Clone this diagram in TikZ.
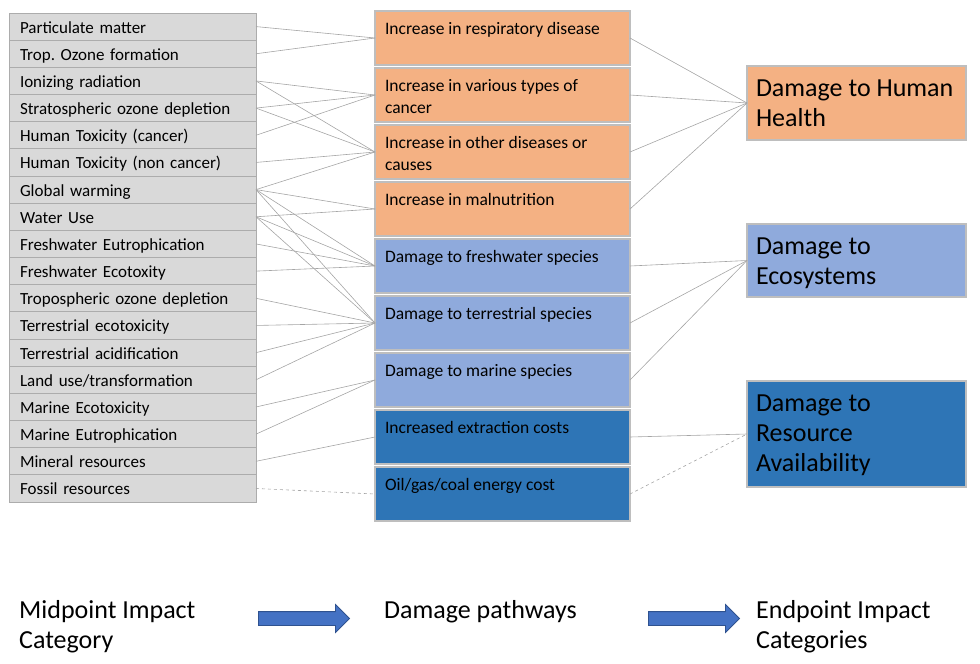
\documentclass[tikz,border=0pt]{standalone}
\usepackage{fontspec}
\setmainfont{Carlito}
\usepackage{tikz}
\usetikzlibrary{positioning, shapes.arrows}
\definecolor{cellgray}{RGB}{217,217,217}
\definecolor{cellborder}{RGB}{172,172,172}
\definecolor{boxborder}{RGB}{190,190,190}
\definecolor{orangefill}{RGB}{244,177,131}
\definecolor{lightbluefill}{RGB}{143,170,220}
\definecolor{darkbluefill}{RGB}{46,117,182}
\definecolor{linegray}{RGB}{165,165,165}
\definecolor{arrowblue}{RGB}{68,114,196}
\definecolor{arrowedge}{RGB}{47,82,143}
\newcommand{\toptext}[3]{\parbox[t][#2][t]{#1}{\raggedright\strut #3}}
\frenchspacing

\begin{document}
\begin{tikzpicture}[
  x=1pt, y=-1pt,
  mid/.style={rectangle, draw=cellborder, fill=cellgray, line width=0.9pt, outer sep=0pt,
              text width=225pt, inner xsep=11pt, inner ysep=0pt, align=left,
              minimum height=27.17pt, text height=14.5pt, text depth=1.5pt,
              font=\fontsize{17}{20}\selectfont},
  pbox/.style={rectangle, draw=boxborder, line width=1.2pt, outer sep=0pt, inner xsep=10pt,
               inner ysep=8pt, font=\fontsize{17.5}{22}\selectfont},
  ebox/.style={rectangle, draw=boxborder, line width=1.2pt, outer sep=0pt, inner xsep=9pt,
               inner ysep=9pt, font=\fontsize{26}{30}\selectfont},
  link/.style={draw=linegray, line width=0.6pt},
  caption/.style={anchor=north west, inner sep=0pt, align=left,
                  font=\fontsize{26}{30}\selectfont},
  bigarrow/.style={single arrow, draw=arrowedge, fill=arrowblue, line width=0.8pt,
                   minimum height=91pt, text height=6.5pt, text depth=6.5pt,
                   single arrow head extend=7pt, inner sep=0pt}
]
\useasboundingbox (0,0) rectangle (980,664);

% --- Midpoint impact categories ---
\node[mid, anchor=north west] (pm) at (9,13) {Particulate matter};
\node[mid, below=0pt of pm] (trop) {Trop. Ozone formation};
\node[mid, below=0pt of trop] (ion) {Ionizing radiation};
\node[mid, below=0pt of ion] (strat) {Stratospheric ozone depletion};
\node[mid, below=0pt of strat] (htc) {Human Toxicity (cancer)};
\node[mid, below=0pt of htc] (htnc) {Human Toxicity (non cancer)};
\node[mid, below=0pt of htnc] (gw) {Global warming};
\node[mid, below=0pt of gw] (water) {Water Use};
\node[mid, below=0pt of water] (fweut) {Freshwater Eutrophication};
\node[mid, below=0pt of fweut] (fwtox) {Freshwater Ecotoxity};
\node[mid, below=0pt of fwtox] (tropdep) {Tropospheric ozone depletion};
\node[mid, below=0pt of tropdep] (terrtox) {Terrestrial ecotoxicity};
\node[mid, below=0pt of terrtox] (terracid) {Terrestrial acidification};
\node[mid, below=0pt of terracid] (landuse) {Land use/transformation};
\node[mid, below=0pt of landuse] (martox) {Marine Ecotoxicity};
\node[mid, below=0pt of martox] (mareut) {Marine Eutrophication};
\node[mid, below=0pt of mareut] (mineral) {Mineral resources};
\node[mid, below=0pt of mineral] (fossil) {Fossil resources};

% --- Damage pathways ---
\node[pbox, fill=orangefill, anchor=north west] (resp) at (375,11)
  {\toptext{235pt}{38pt}{Increase in respiratory disease}};
\node[pbox, fill=orangefill, below=3pt of resp] (cancer)
  {\toptext{235pt}{38pt}{Increase in various types of\\cancer}};
\node[pbox, fill=orangefill, below=3pt of cancer] (other)
  {\toptext{235pt}{38pt}{Increase in other diseases or\\causes}};
\node[pbox, fill=orangefill, below=3pt of other] (malnut)
  {\toptext{235pt}{38pt}{Increase in malnutrition}};
\node[pbox, fill=lightbluefill, below=3pt of malnut] (fwsp)
  {\toptext{235pt}{38pt}{Damage to freshwater species}};
\node[pbox, fill=lightbluefill, below=3pt of fwsp] (tersp)
  {\toptext{235pt}{38pt}{Damage to terrestrial species}};
\node[pbox, fill=lightbluefill, below=3pt of tersp] (marsp)
  {\toptext{235pt}{38pt}{Damage to marine species}};
\node[pbox, fill=darkbluefill, below=3pt of marsp] (extract)
  {\toptext{235pt}{38pt}{Increased extraction costs}};
\node[pbox, fill=darkbluefill, below=3pt of extract] (energy)
  {\toptext{235pt}{38pt}{Oil/gas/coal energy cost}};

% --- Endpoint categories ---
\node[ebox, fill=orangefill, anchor=north west] (health) at (747,66)
  {\toptext{201pt}{56pt}{Damage to Human\\Health}};
\node[ebox, fill=lightbluefill, below=84pt of health] (ecosys)
  {\toptext{201pt}{55pt}{Damage to\\Ecosystems}};
\node[ebox, fill=darkbluefill, below=84pt of ecosys] (resource)
  {\toptext{201pt}{88pt}{Damage to\\Resource\\Availability}};

% --- Links midpoint -> pathways ---
\draw[link] (pm.east) -- (resp.west);
\draw[link] (trop.east) -- (resp.west);
\draw[link] (ion.east) -- (cancer.west);
\draw[link] (ion.east) -- (other.west);
\draw[link] (strat.east) -- (cancer.west);
\draw[link] (strat.east) -- (other.west);
\draw[link] (htc.east) -- (cancer.west);
\draw[link] (htnc.east) -- (other.west);
\draw[link] (gw.east) -- (other.west);
\draw[link] (gw.east) -- (malnut.west);
\draw[link] (gw.east) -- (fwsp.west);
\draw[link] (gw.east) -- (tersp.west);
\draw[link] (water.east) -- (malnut.west);
\draw[link] (water.east) -- (fwsp.west);
\draw[link] (water.east) -- (tersp.west);
\draw[link] (fweut.east) -- (fwsp.west);
\draw[link] (fwtox.east) -- (fwsp.west);
\draw[link] (tropdep.east) -- (tersp.west);
\draw[link] (terrtox.east) -- (tersp.west);
\draw[link] (terracid.east) -- (tersp.west);
\draw[link] (landuse.east) -- (tersp.west);
\draw[link] (martox.east) -- (marsp.west);
\draw[link] (mareut.east) -- (marsp.west);
\draw[link] (mineral.east) -- (extract.west);
\draw[link, dashed] (fossil.east) -- (energy.west);

% --- Links pathways -> endpoints ---
\draw[link] (resp.east) -- (health.west);
\draw[link] (cancer.east) -- (health.west);
\draw[link] (other.east) -- (health.west);
\draw[link] (malnut.east) -- (health.west);
\draw[link] (fwsp.east) -- (ecosys.west);
\draw[link] (tersp.east) -- (ecosys.west);
\draw[link] (marsp.east) -- (ecosys.west);
\draw[link] (extract.east) -- (resource.west);
\draw[link, dashed] (energy.east) -- (resource.west);

% --- Bottom legend ---
\node[caption] (midlbl) at (19,597) {\strut Midpoint Impact\\Category};
\node[caption] (pathlbl) at (384,597) {\strut Damage pathways};
\node[caption] (endlbl) at (756,597) {\strut Endpoint Impact\\Categories};
\node[bigarrow] (arrowA) at (300.5,618.5) {};
\node[bigarrow] (arrowB) at (690.5,618.5) {};

\end{tikzpicture}
\end{document}
